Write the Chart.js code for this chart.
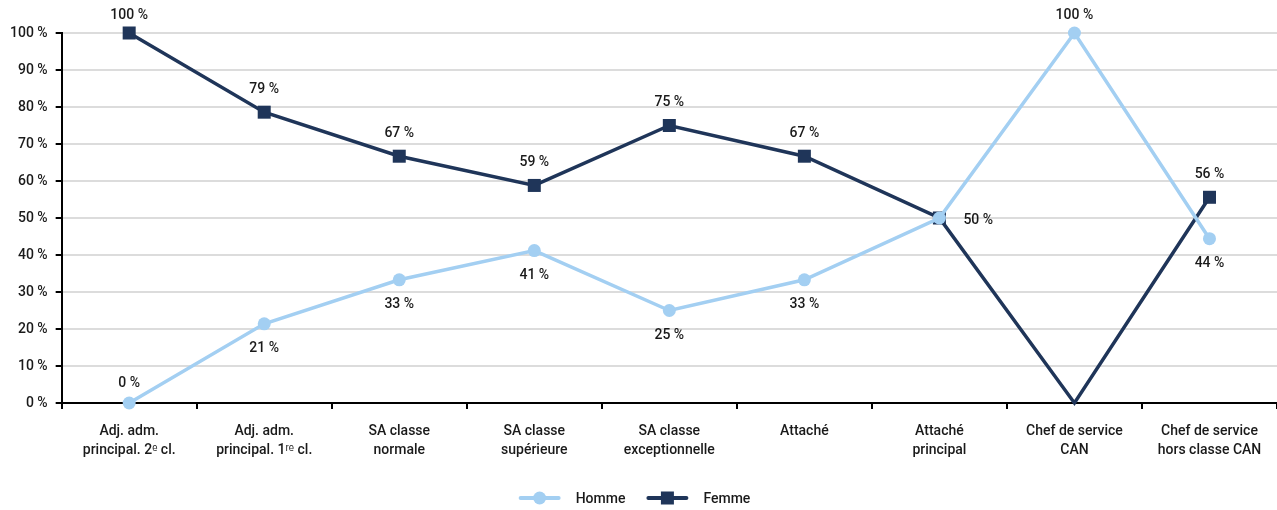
<!DOCTYPE html>
<html>
<head>
<meta charset="utf-8">
<script src="https://cdn.jsdelivr.net/npm/chart.js@4/dist/chart.umd.min.js"></script>
<style>
  html, body { margin: 0; padding: 0; background: #fff; overflow: hidden; }
  #wrap { width: 1277px; height: 510px; }
</style>
</head>
<body>
<div id="wrap"><canvas id="c"></canvas></div>
<script>
const categories = [
  ["Adj. adm.", "principal. 2\u1D49 cl."],
  ["Adj. adm.", "principal. 1\u02B3\u1D49 cl."],
  ["SA classe", "normale"],
  ["SA classe", "supérieure"],
  ["SA classe", "exceptionnelle"],
  ["Attaché"],
  ["Attaché", "principal"],
  ["Chef de service", "CAN"],
  ["Chef de service", "hors classe CAN"]
];
const hommeValues = [0, 21.4, 33.3, 41.2, 25, 33.3, 50, 100, 44.4];
const femmeValues = [100, 78.6, 66.7, 58.8, 75, 66.7, 50, 0, 55.6];
const yTicks = [0, 10, 20, 30, 40, 50, 60, 70, 80, 90, 100];

const NAVY = '#1f3559';
const LIGHT = '#a3cff2';
const TEXT = '#1a1a1a';
const FONT = "Roboto, 'Liberation Sans', sans-serif";
const FONT_OPTS = { size: 14, family: FONT, weight: 500 };

const labelPlugin = {
  id: 'valueLabels',
  afterDatasetsDraw(chart) {
    const ctx = chart.ctx;
    const metaH = chart.getDatasetMeta(0), metaF = chart.getDatasetMeta(1);
    ctx.save();
    ctx.font = '500 14px ' + FONT;
    ctx.fillStyle = TEXT;
    ctx.textBaseline = 'middle';
    ctx.textAlign = 'center';
    const top = chart.chartArea.top;
    for (let i = 0; i < categories.length; i++) {
      const h = hommeValues[i], f = femmeValues[i];
      const ph = metaH.data[i], pf = metaF.data[i];
      if (h === f) {
        ctx.textAlign = 'left';
        ctx.fillText(Math.round(h) + ' %', ph.x + 24, ph.y + 2);
        ctx.textAlign = 'center';
        continue;
      }
      const items = [{v: h, p: ph, show: true}, {v: f, p: pf, show: f !== 0}];
      items.forEach((it, k) => {
        if (!it.show) return;
        const other = items[1 - k].v;
        let y;
        if (it.v === 0) y = it.p.y - 20;
        else if (it.v > other) y = Math.max(it.p.y - 23, top - 18);
        else y = it.p.y + 25;
        ctx.fillText(Math.round(it.v) + ' %', it.p.x, y);
      });
    }
    ctx.restore();
  }
};

// legend drawn as line + marker sample, like the original
const legendPlugin = {
  id: 'lineLegend',
  afterDraw(chart) {
    const ctx = chart.ctx;
    const ds = chart.data.datasets;
    ctx.save();
    ctx.font = '500 14px ' + FONT;
    const sampleW = 42, textGap = 15, itemGap = 21;
    const widths = ds.map(d => sampleW + textGap + ctx.measureText(d.label).width);
    const total = widths.reduce((a, b) => a + b, 0) + itemGap * (ds.length - 1);
    let x = chart.width / 2 - 4 - total / 2;
    const y = 498;
    ds.forEach((d, i) => {
      ctx.strokeStyle = d.borderColor; ctx.lineWidth = 4; ctx.lineCap = 'round';
      ctx.beginPath(); ctx.moveTo(x + 2, y); ctx.lineTo(x + sampleW - 2, y); ctx.stroke();
      ctx.fillStyle = d.borderColor;
      if (d.pointStyle === 'circle') { ctx.beginPath(); ctx.arc(x + sampleW / 2, y, 6.5, 0, Math.PI * 2); ctx.fill(); }
      else { ctx.fillRect(x + sampleW / 2 - 6.5, y - 6.5, 13, 13); }
      ctx.fillStyle = TEXT; ctx.textBaseline = 'middle'; ctx.textAlign = 'left';
      ctx.fillText(d.label, x + sampleW + textGap, y + 1);
      x += widths[i] + itemGap;
    });
    ctx.restore();
  }
};

Chart.defaults.font.family = FONT;
Chart.defaults.font.size = 14;
Chart.defaults.font.weight = 500;
Chart.defaults.color = TEXT;

new Chart(document.getElementById('c'), {
  type: 'line',
  data: {
    labels: categories,
    datasets: [
      {
        label: 'Homme', data: hommeValues,
        borderColor: LIGHT, backgroundColor: LIGHT,
        borderWidth: 3.5, pointStyle: 'circle', pointRadius: 6.5, pointHoverRadius: 6.5,
        pointBorderWidth: 0, tension: 0, clip: false
      },
      {
        label: 'Femme', data: femmeValues,
        borderColor: NAVY, backgroundColor: NAVY,
        borderWidth: 3.5, pointStyle: 'rect',
        pointRadius: c => (c.raw === 0 ? 0 : 9.2), pointHoverRadius: 9.2,
        pointBorderWidth: 0, tension: 0, clip: false
      }
    ]
  },
  options: {
    responsive: true, maintainAspectRatio: false, animation: false,
    layout: { autoPadding: false, padding: { top: 33, right: 0, left: 2, bottom: 0 } },
    plugins: {
      tooltip: { enabled: false },
      legend: { display: false }
    },
    scales: {
      x: {
        offset: true,
        afterFit: s => { s.height = 107; },
        grid: { offset: true, drawOnChartArea: false, drawTicks: true, tickLength: 6, color: '#000', tickColor: '#000', lineWidth: 2 },
        border: { display: true, color: '#000', width: 2 },
        ticks: { color: TEXT, font: { ...FONT_OPTS, lineHeight: 1.35 }, maxRotation: 0, autoSkip: false, padding: 13 }
      },
      y: {
        min: 0, max: 100,
        afterBuildTicks: s => { s.ticks = yTicks.map(v => ({ value: v })); },
        grid: { color: '#dcdcdc', lineWidth: 2, tickColor: '#000', tickLength: 6, drawTicks: true },
        border: { display: true, color: '#000', width: 2 },
        ticks: { color: TEXT, font: FONT_OPTS, padding: 8, callback: v => v + ' %' }
      }
    }
  },
  plugins: [labelPlugin, legendPlugin]
});
</script>
</body>
</html>
